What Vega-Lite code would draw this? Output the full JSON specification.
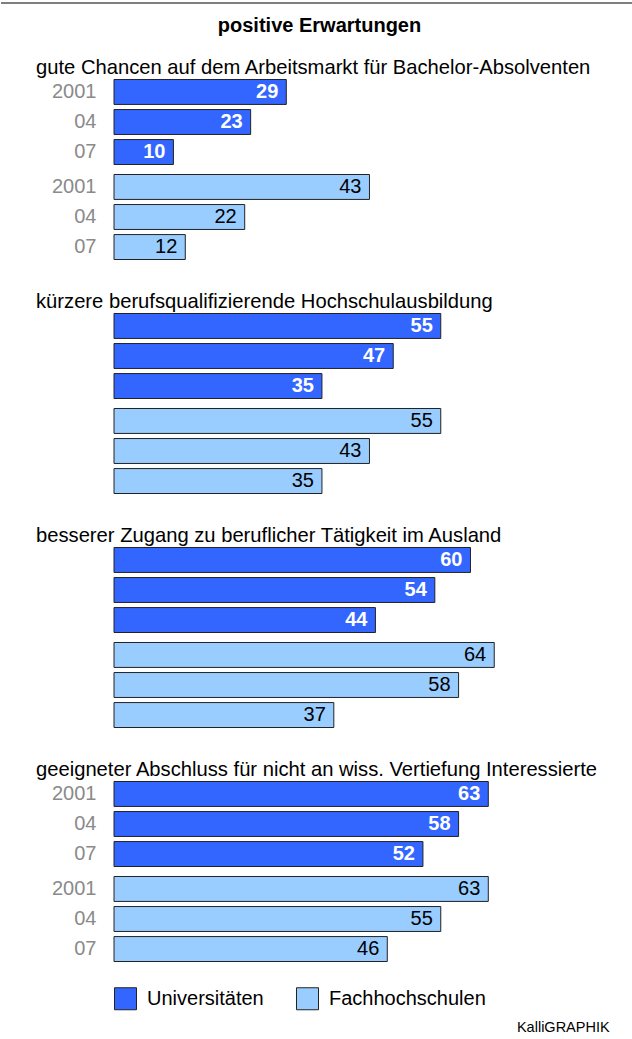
{
  "$schema": "https://vega.github.io/schema/vega-lite/v6.json",
  "padding": 0,
  "background": "white",
  "datasets": {
    "d": [
      {"g": 1, "type": "Universitäten", "year": "2001", "value": 29},
      {"g": 1, "type": "Universitäten", "year": "04", "value": 23},
      {"g": 1, "type": "Universitäten", "year": "07", "value": 10},
      {"g": 1, "type": "Fachhochschulen", "year": "2001", "value": 43},
      {"g": 1, "type": "Fachhochschulen", "year": "04", "value": 22},
      {"g": 1, "type": "Fachhochschulen", "year": "07", "value": 12},
      {"g": 2, "type": "Universitäten", "year": "2001", "value": 55},
      {"g": 2, "type": "Universitäten", "year": "04", "value": 47},
      {"g": 2, "type": "Universitäten", "year": "07", "value": 35},
      {"g": 2, "type": "Fachhochschulen", "year": "2001", "value": 55},
      {"g": 2, "type": "Fachhochschulen", "year": "04", "value": 43},
      {"g": 2, "type": "Fachhochschulen", "year": "07", "value": 35},
      {"g": 3, "type": "Universitäten", "year": "2001", "value": 60},
      {"g": 3, "type": "Universitäten", "year": "04", "value": 54},
      {"g": 3, "type": "Universitäten", "year": "07", "value": 44},
      {"g": 3, "type": "Fachhochschulen", "year": "2001", "value": 64},
      {"g": 3, "type": "Fachhochschulen", "year": "04", "value": 58},
      {"g": 3, "type": "Fachhochschulen", "year": "07", "value": 37},
      {"g": 4, "type": "Universitäten", "year": "2001", "value": 63},
      {"g": 4, "type": "Universitäten", "year": "04", "value": 58},
      {"g": 4, "type": "Universitäten", "year": "07", "value": 52},
      {"g": 4, "type": "Fachhochschulen", "year": "2001", "value": 63},
      {"g": 4, "type": "Fachhochschulen", "year": "04", "value": 55},
      {"g": 4, "type": "Fachhochschulen", "year": "07", "value": 46}
    ]
  },
  "title": {"text": "KalliGRAPHIK", "orient": "bottom", "anchor": "end", "frame": "bounds", "fontSize": 14.5, "fontWeight": "normal", "offset": 9, "dx": -24, "color": "black"},
  "spacing": 9,
  "vconcat": [
    {
      "width": 505, "height": 6,
      "data": {"values": [{}]},
      "mark": {"type": "rule", "color": "black", "strokeWidth": 1.2},
      "encoding": {
        "x": {"datum": -19.02, "type": "quantitative", "scale": {"domain": [0, 85], "nice": false, "zero": false}, "axis": null},
        "x2": {"datum": 87.36}
      }
    },
    {
      "title": {"text": "positive Erwartungen", "anchor": "middle", "frame": "bounds", "fontSize": 20, "fontWeight": "bold", "offset": 22, "dx": -8, "color": "black"},
      "spacing": 29,
      "data": {"name": "d"},
      "vconcat": [
        {"spacing": 5, "vconcat": [
          {"width": 505, "height": 90,
           "title": {"text": "gute Chancen auf dem Arbeitsmarkt für Bachelor-Absolventen", "anchor": "start", "frame": "group", "dx": -78, "fontSize": 20.2, "fontWeight": "normal", "offset": -1, "color": "black"},
           "transform": [{"filter": "datum.g == 1 && datum.type == 'Universitäten'"}],
           "encoding": {
             "y": {"field": "year", "type": "nominal", "sort": ["2001", "04", "07"], "scale": {"paddingInner": 0.17, "paddingOuter": 0.083}, "axis": {"title": null, "ticks": false, "domain": false, "labelFontSize": 20, "labelColor": "#8a8a8a", "labelPadding": 18}},
             "x": {"field": "value", "type": "quantitative", "scale": {"domain": [0, 85], "nice": false}, "axis": null}
           },
           "layer": [
             {"mark": {"type": "bar", "stroke": "#222", "strokeWidth": 1}, "encoding": {"color": {"field": "type", "type": "nominal", "scale": {"domain": ["Universitäten", "Fachhochschulen"], "range": ["#3366ff", "#99ccff"]}}}},
             {"mark": {"type": "text", "align": "right", "dx": -8, "fontSize": 20, "fontWeight": "bold", "color": "white"}, "encoding": {"text": {"field": "value"}}}
           ]},
          {"width": 505, "height": 90,
           "transform": [{"filter": "datum.g == 1 && datum.type == 'Fachhochschulen'"}],
           "encoding": {
             "y": {"field": "year", "type": "nominal", "sort": ["2001", "04", "07"], "scale": {"paddingInner": 0.17, "paddingOuter": 0.083}, "axis": {"title": null, "ticks": false, "domain": false, "labelFontSize": 20, "labelColor": "#8a8a8a", "labelPadding": 18}},
             "x": {"field": "value", "type": "quantitative", "scale": {"domain": [0, 85], "nice": false}, "axis": null}
           },
           "layer": [
             {"mark": {"type": "bar", "stroke": "#222", "strokeWidth": 1}, "encoding": {"color": {"field": "type", "type": "nominal", "scale": {"domain": ["Universitäten", "Fachhochschulen"], "range": ["#3366ff", "#99ccff"]}}}},
             {"mark": {"type": "text", "align": "right", "dx": -8, "fontSize": 20, "fontWeight": "normal", "color": "black"}, "encoding": {"text": {"field": "value"}}}
           ]}
        ]},
        {"spacing": 5, "vconcat": [
          {"width": 505, "height": 90,
           "title": {"text": "kürzere berufsqualifizierende Hochschulausbildung", "anchor": "start", "frame": "group", "dx": -78, "fontSize": 20.2, "fontWeight": "normal", "offset": -1, "color": "black"},
           "transform": [{"filter": "datum.g == 2 && datum.type == 'Universitäten'"}],
           "encoding": {
             "y": {"field": "year", "type": "nominal", "sort": ["2001", "04", "07"], "scale": {"paddingInner": 0.17, "paddingOuter": 0.083}, "axis": null},
             "x": {"field": "value", "type": "quantitative", "scale": {"domain": [0, 85], "nice": false}, "axis": null}
           },
           "layer": [
             {"mark": {"type": "bar", "stroke": "#222", "strokeWidth": 1}, "encoding": {"color": {"field": "type", "type": "nominal", "scale": {"domain": ["Universitäten", "Fachhochschulen"], "range": ["#3366ff", "#99ccff"]}}}},
             {"mark": {"type": "text", "align": "right", "dx": -8, "fontSize": 20, "fontWeight": "bold", "color": "white"}, "encoding": {"text": {"field": "value"}}}
           ]},
          {"width": 505, "height": 90,
           "transform": [{"filter": "datum.g == 2 && datum.type == 'Fachhochschulen'"}],
           "encoding": {
             "y": {"field": "year", "type": "nominal", "sort": ["2001", "04", "07"], "scale": {"paddingInner": 0.17, "paddingOuter": 0.083}, "axis": null},
             "x": {"field": "value", "type": "quantitative", "scale": {"domain": [0, 85], "nice": false}, "axis": null}
           },
           "layer": [
             {"mark": {"type": "bar", "stroke": "#222", "strokeWidth": 1}, "encoding": {"color": {"field": "type", "type": "nominal", "scale": {"domain": ["Universitäten", "Fachhochschulen"], "range": ["#3366ff", "#99ccff"]}}}},
             {"mark": {"type": "text", "align": "right", "dx": -8, "fontSize": 20, "fontWeight": "normal", "color": "black"}, "encoding": {"text": {"field": "value"}}}
           ]}
        ]},
        {"spacing": 5, "vconcat": [
          {"width": 505, "height": 90,
           "title": {"text": "besserer Zugang zu beruflicher Tätigkeit im Ausland", "anchor": "start", "frame": "group", "dx": -78, "fontSize": 20.2, "fontWeight": "normal", "offset": -1, "color": "black"},
           "transform": [{"filter": "datum.g == 3 && datum.type == 'Universitäten'"}],
           "encoding": {
             "y": {"field": "year", "type": "nominal", "sort": ["2001", "04", "07"], "scale": {"paddingInner": 0.17, "paddingOuter": 0.083}, "axis": null},
             "x": {"field": "value", "type": "quantitative", "scale": {"domain": [0, 85], "nice": false}, "axis": null}
           },
           "layer": [
             {"mark": {"type": "bar", "stroke": "#222", "strokeWidth": 1}, "encoding": {"color": {"field": "type", "type": "nominal", "scale": {"domain": ["Universitäten", "Fachhochschulen"], "range": ["#3366ff", "#99ccff"]}}}},
             {"mark": {"type": "text", "align": "right", "dx": -8, "fontSize": 20, "fontWeight": "bold", "color": "white"}, "encoding": {"text": {"field": "value"}}}
           ]},
          {"width": 505, "height": 90,
           "transform": [{"filter": "datum.g == 3 && datum.type == 'Fachhochschulen'"}],
           "encoding": {
             "y": {"field": "year", "type": "nominal", "sort": ["2001", "04", "07"], "scale": {"paddingInner": 0.17, "paddingOuter": 0.083}, "axis": null},
             "x": {"field": "value", "type": "quantitative", "scale": {"domain": [0, 85], "nice": false}, "axis": null}
           },
           "layer": [
             {"mark": {"type": "bar", "stroke": "#222", "strokeWidth": 1}, "encoding": {"color": {"field": "type", "type": "nominal", "scale": {"domain": ["Universitäten", "Fachhochschulen"], "range": ["#3366ff", "#99ccff"]}}}},
             {"mark": {"type": "text", "align": "right", "dx": -8, "fontSize": 20, "fontWeight": "normal", "color": "black"}, "encoding": {"text": {"field": "value"}}}
           ]}
        ]},
        {"spacing": 5, "vconcat": [
          {"width": 505, "height": 90,
           "title": {"text": "geeigneter Abschluss für nicht an wiss. Vertiefung Interessierte", "anchor": "start", "frame": "group", "dx": -78, "fontSize": 20.2, "fontWeight": "normal", "offset": -1, "color": "black"},
           "transform": [{"filter": "datum.g == 4 && datum.type == 'Universitäten'"}],
           "encoding": {
             "y": {"field": "year", "type": "nominal", "sort": ["2001", "04", "07"], "scale": {"paddingInner": 0.17, "paddingOuter": 0.083}, "axis": {"title": null, "ticks": false, "domain": false, "labelFontSize": 20, "labelColor": "#8a8a8a", "labelPadding": 18}},
             "x": {"field": "value", "type": "quantitative", "scale": {"domain": [0, 85], "nice": false}, "axis": null}
           },
           "layer": [
             {"mark": {"type": "bar", "stroke": "#222", "strokeWidth": 1}, "encoding": {"color": {"field": "type", "type": "nominal", "scale": {"domain": ["Universitäten", "Fachhochschulen"], "range": ["#3366ff", "#99ccff"]}}}},
             {"mark": {"type": "text", "align": "right", "dx": -8, "fontSize": 20, "fontWeight": "bold", "color": "white"}, "encoding": {"text": {"field": "value"}}}
           ]},
          {"width": 505, "height": 90,
           "transform": [{"filter": "datum.g == 4 && datum.type == 'Fachhochschulen'"}],
           "encoding": {
             "y": {"field": "year", "type": "nominal", "sort": ["2001", "04", "07"], "scale": {"paddingInner": 0.17, "paddingOuter": 0.083}, "axis": {"title": null, "ticks": false, "domain": false, "labelFontSize": 20, "labelColor": "#8a8a8a", "labelPadding": 18}},
             "x": {"field": "value", "type": "quantitative", "scale": {"domain": [0, 85], "nice": false}, "axis": null}
           },
           "layer": [
             {"mark": {"type": "bar", "stroke": "#222", "strokeWidth": 1}, "encoding": {"color": {"field": "type", "type": "nominal", "scale": {"domain": ["Universitäten", "Fachhochschulen"], "range": ["#3366ff", "#99ccff"]}}}},
             {"mark": {"type": "text", "align": "right", "dx": -8, "fontSize": 20, "fontWeight": "normal", "color": "black"}, "encoding": {"text": {"field": "value"}}}
           ]}
        ]}
      ]
    }
  ],
  "config": {
    "font": "Liberation Sans",
    "view": {"stroke": null},
    "legend": {
      "orient": "bottom", "direction": "horizontal", "title": null,
      "symbolType": "square", "symbolSize": 484, "symbolStrokeColor": "#222", "symbolStrokeWidth": 1, "symbolOpacity": 1,
      "labelFontSize": 20, "labelColor": "black", "labelOffset": 10, "columnPadding": 30, "offset": 23, "padding": 0
    }
  }
}
